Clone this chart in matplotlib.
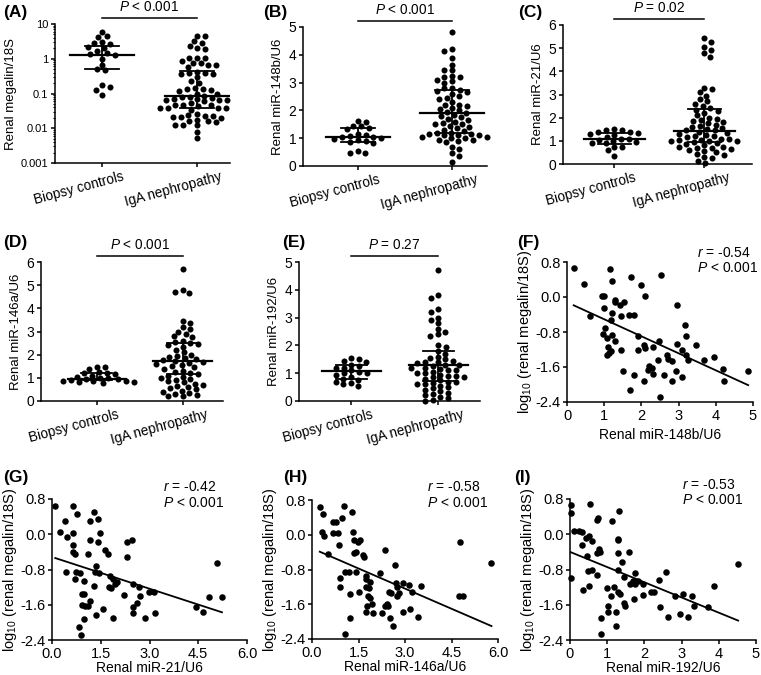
import numpy as np
import matplotlib
matplotlib.use("Agg")
import matplotlib.pyplot as plt
from matplotlib import transforms
from matplotlib.ticker import LogLocator, FixedLocator, FixedFormatter, NullFormatter

# ─── Data ──────────────────────────────────────────────────────────────────────

GROUPS = ["Biopsy controls", "IgA nephropathy"]

# renal megalin/18S, biopsy controls
A_ctrl = [5.8, 4.4, 4.2, 3.0, 2.8, 2.7, 2.2, 2.1, 1.7, 1.5, 1.4, 1.3, 1.0, 0.68,
          0.5, 0.47, 0.17, 0.155, 0.13, 0.093]
A_stats = [(0.5, 1.3, 2.4), (0.039, 0.084, 0.45)]          # q1, median, q3

B_ctrl = [1.62, 1.6, 1.45, 1.43, 1.35, 1.32, 1.15, 1.12, 1.08, 1.05, 1.03, 1.0,
          0.98, 0.92, 0.9, 0.88, 0.82, 0.55, 0.48, 0.47]
B_iga = [4.82, 4.2, 4.15, 3.9, 3.65, 3.45, 3.45, 3.25, 3.2, 3.2, 3.1, 3.05, 3.0,
         2.8, 2.8, 2.75, 2.7, 2.65, 2.6, 2.5, 2.45, 2.4, 2.3, 2.2, 2.2, 2.15, 2.1,
         2.05, 2.0, 1.95, 1.9, 1.85, 1.8, 1.75, 1.7, 1.65, 1.6, 1.55, 1.5, 1.5,
         1.45, 1.4, 1.35, 1.3, 1.25, 1.2, 1.2, 1.15, 1.15, 1.1, 1.1, 1.1, 1.05,
         1.05, 1.0, 1.0, 0.95, 0.95, 0.9, 0.85, 0.7, 0.6, 0.45, 0.35, 0.15]
B_stats = [(0.88, 1.05, 1.35), (1.19, 1.9, 2.72)]

C_ctrl = [1.5, 1.48, 1.45, 1.4, 1.38, 1.35, 1.3, 1.25, 1.15, 1.1, 1.08, 1.05, 1.0,
          0.95, 0.92, 0.9, 0.75, 0.72, 0.6, 0.35]
C_iga = [5.43, 5.28, 5.07, 4.92, 4.78, 4.61, 3.3, 3.25, 3.1, 2.95, 2.8, 2.7, 2.6,
         2.5, 2.4, 2.35, 2.3, 2.2, 2.1, 2.0, 1.95, 1.9, 1.85, 1.8, 1.75, 1.7,
         1.65, 1.6, 1.55, 1.5, 1.45, 1.45, 1.4, 1.35, 1.3, 1.25, 1.2, 1.2, 1.15,
         1.1, 1.1, 1.05, 1.05, 1.0, 1.0, 1.0, 0.95, 0.9, 0.85, 0.8, 0.75, 0.75,
         0.7, 0.7, 0.65, 0.6, 0.55, 0.5, 0.45, 0.4, 0.3, 0.25, 0.15, 0.05]
C_stats = [(0.88, 1.08, 1.33), (0.95, 1.43, 2.38)]

D_ctrl = [1.48, 1.45, 1.38, 1.25, 1.22, 1.2, 1.15, 1.1, 1.05, 1.0, 0.98, 0.95,
          0.93, 0.9, 0.88, 0.87, 0.85, 0.82, 0.8, 0.78]
D_iga = [5.7, 4.8, 4.7, 4.65, 3.45, 3.35, 3.2, 3.1, 3.0, 2.9, 2.8, 2.75, 2.6,
         2.55, 2.5, 2.45, 2.4, 2.35, 2.2, 2.1, 2.0, 1.95, 1.9, 1.85, 1.8, 1.75,
         1.72, 1.7, 1.65, 1.6, 1.55, 1.5, 1.45, 1.4, 1.3, 1.25, 1.2, 1.15, 1.1,
         1.05, 1.0, 0.95, 0.9, 0.85, 0.8, 0.75, 0.7, 0.65, 0.6, 0.55, 0.5, 0.45,
         0.4, 0.35, 0.3, 0.25, 0.2, 0.2]
D_stats = [(0.89, 0.95, 1.2), (1.15, 1.72, 2.51)]

E_ctrl = [1.55, 1.5, 1.45, 1.4, 1.3, 1.25, 1.2, 1.18, 1.1, 1.05, 1.0, 1.0, 0.95,
          0.85, 0.8, 0.75, 0.7, 0.65, 0.6, 0.55]
E_iga = [4.72, 3.82, 3.72, 3.3, 3.2, 3.0, 2.9, 2.8, 2.6, 2.5, 2.4, 2.35, 2.0,
         1.95, 1.8, 1.7, 1.6, 1.55, 1.5, 1.45, 1.4, 1.4, 1.35, 1.3, 1.3, 1.25,
         1.2, 1.2, 1.15, 1.1, 1.1, 1.05, 1.0, 1.0, 0.95, 0.9, 0.9, 0.85, 0.85,
         0.8, 0.75, 0.7, 0.7, 0.65, 0.6, 0.6, 0.55, 0.5, 0.45, 0.4, 0.35, 0.3,
         0.25, 0.2, 0.15, 0.1, 0.05, 0.0]
E_stats = [(0.78, 1.07, 1.28), (0.73, 1.28, 1.79)]

# correlations: x = renal miRNA/U6, y = log10(renal megalin/18S)
F_x = [0.18, 0.46, 0.63, 0.94, 0.99, 1.0, 1.03, 0.98, 1.08, 1.1, 1.08, 1.12, 1.17,
       1.2, 1.16, 1.22, 1.22, 1.19, 1.28, 1.29, 1.29, 1.43, 1.52, 1.46, 1.46, 1.51,
       1.67, 1.8, 1.7, 1.72, 1.79, 1.92, 1.92, 2.0, 2.1, 2.08, 2.1, 2.08, 2.17,
       2.21, 2.28, 2.32, 2.32, 2.44, 2.46, 2.51, 2.53, 2.62, 2.68, 2.72, 2.81,
       2.81, 2.93, 2.96, 2.97, 3.08, 3.08, 3.17, 3.21, 3.21, 3.24, 3.46, 3.69,
       3.96, 4.2, 4.23, 4.87]
F_y = [0.66, 0.30, -0.44, 0.03, 0.03, -0.25, -0.71, -0.85, -0.94, -1.15, -1.32,
       -1.28, -1.23, -0.86, 0.65, 0.37, -0.37, -0.53, -0.06, -0.11, -1.01, -0.18,
       -0.12, -0.44, -1.2, -1.7, -0.42, -0.42, -2.12, 0.46, -1.79, -0.88, -1.2,
       0.28, 0.03, -1.09, -1.17, -1.91, -1.66, -1.58, -1.62, -1.14, -1.75, -1.43,
       -1.01, -2.29, 0.51, -1.79, -1.33, -1.41, -1.47, -1.91, -1.68, -1.07, -0.18,
       -1.2, -1.83, -0.65, -0.9, -1.33, -1.43, -1.1, -1.43, -1.37, -1.64, -1.91,
       -1.68]
F_fit = (-0.12, -0.389)      # intercept, slope

G_x = [0.1, 0.26, 0.41, 0.46, 0.43, 0.65, 0.66, 0.65, 0.65, 0.72, 0.77, 0.75, 0.72,
       0.84, 0.87, 0.9, 0.92, 0.92, 0.97, 0.99, 0.97, 1.02, 1.1, 1.11, 1.16, 1.18,
       1.18, 1.28, 1.28, 1.33, 1.36, 1.35, 1.41, 1.43, 1.47, 1.46, 1.57, 1.64,
       1.71, 1.79, 1.74, 1.82, 1.88, 1.88, 1.95, 2.0, 2.2, 2.31, 2.31, 2.46, 2.49,
       2.49, 2.49, 2.62, 2.67, 2.7, 2.85, 2.99, 3.15, 3.18, 4.44, 4.64, 4.84, 5.09,
       5.23]
G_y = [0.63, 0.04, 0.29, -0.06, -0.86, 0.65, 0.03, -0.25, -0.41, -0.45, 0.46,
       -0.86, -1.01, -2.11, -0.87, -2.29, -1.35, -1.6, -1.06, -1.35, -1.92, -1.63,
       -1.63, -0.44, 0.29, -0.12, -1.51, 0.5, -1.17, -0.86, -0.72, -1.83, 0.35,
       -0.17, 0.03, -0.88, -1.7, -0.35, -0.44, -0.95, -1.2, -1.22, -1.9, -1.02,
       -1.13, -1.08, -1.38, -0.18, -0.52, -0.12, -1.13, -1.66, -1.78, -1.57, -1.2,
       -1.4, -1.9, -1.32, -1.3, -1.78, -1.66, -1.77, -1.43, -0.66, -1.43]
G_fit = (-0.516, -0.24)

H_x = [0.25, 0.35, 0.32, 0.4, 0.51, 0.68, 0.78, 0.68, 0.83, 0.86, 0.96, 1.04, 0.91,
       0.89, 1.07, 1.07, 1.2, 1.21, 1.21, 1.29, 1.31, 1.36, 1.34, 1.43, 1.43, 1.47,
       1.5, 1.55, 1.66, 1.68, 1.73, 1.75, 1.75, 1.75, 1.78, 1.81, 1.84, 1.87,
       1.88, 1.93, 1.98, 2.2, 2.27, 2.37, 2.37, 2.42, 2.46, 2.47, 2.5, 2.54, 2.62,
       2.68, 2.7, 2.73, 2.73, 2.82, 2.92, 2.92, 3.14, 3.16, 3.21, 3.43, 3.5, 4.75,
       4.88, 4.77, 5.79]
H_y = [0.65, 0.48, 0.06, -0.04, -0.44, 0.30, 0.30, 0.05, 0.05, -0.23, 0.38, 0.67,
       -1.0, -1.21, -0.85, -2.29, -0.85, -1.36, -1.92, 0.52, 0.06, -0.12, -0.43,
       -0.4, -0.86, -0.17, -1.31, -0.11, -0.46, -0.52, -0.96, -1.02, -1.2, -1.77,
       -1.65, -1.41, -1.23, -1.08, -1.46, -1.59, -1.8, -0.89, -1.8, -0.35, -1.65,
       -1.59, -1.65, -1.31, -1.92, -1.35, -2.11, -0.69, -1.11, -1.41, -1.21, -1.33,
       -1.78, -1.1, -1.15, -1.7, -1.31, -1.9, -1.19, -1.42, -1.42, -0.17, -0.64]
H_fit = (-0.313, -0.309)

I_x = [0.02, 0.02, 0.02, 0.11, 0.24, 0.33, 0.31, 0.34, 0.43, 0.46, 0.5, 0.48, 0.51,
       0.54, 0.6, 0.58, 0.72, 0.76, 0.73, 0.78, 0.81, 0.72, 0.83, 0.83, 0.99, 1.01,
       1.03, 1.1, 1.14, 1.17, 1.24, 1.24, 1.28, 1.28, 1.28, 1.3, 1.3, 1.33, 1.35,
       1.41, 1.44, 1.46, 1.48, 1.59, 1.62, 1.69, 1.71, 1.75, 1.75, 1.82, 1.95,
       1.95, 2.17, 2.27, 2.4, 2.41, 2.58, 2.63, 2.81, 2.96, 3.05, 3.16, 3.28, 3.32,
       3.71, 3.86, 4.52]
I_y = [0.67, 0.48, -0.99, 0.08, 0.08, 0.06, -0.24, -1.27, -0.09, -0.5, -0.04,
       -0.83, -1.18, 0.69, -0.81, -0.15, 0.33, 0.38, -0.43, -0.34, -0.4, -0.93,
       -1.9, -2.26, -1.21, -1.77, -1.63, -1.4, 0.31, -1.2, -1.77, -2.09, -0.11,
       -0.14, -0.42, -0.81, -1.31, 0.53, -1.35, -0.62, -1.56, -0.98, -1.62, -0.4,
       -1.13, -1.07, -1.48, -0.87, -1.13, -1.07, -1.14, -1.37, -1.3, -1.3, -1.04,
       -1.66, -0.85, -1.88, -1.4, -1.81, -1.35, -1.88, -1.4, -1.62, -1.65, -1.17,
       -0.68]
I_fit = (-0.40, -0.345)

# IgA group in (A) is the same patients as the y values of the scatter panels
A_iga = list(10.0 ** np.array(F_y))

R_VALUES = {"F": "-0.54", "G": "-0.42", "H": "-0.58", "I": "-0.53"}

# ─── Style ─────────────────────────────────────────────────────────────────────

W, H = 761, 675
plt.rcParams.update({
    "font.family": ["Liberation Sans", "DejaVu Sans"],
    "mathtext.fontset": "custom",
    "mathtext.rm": "Liberation Sans",
    "mathtext.it": "Liberation Sans:italic",
    "mathtext.bf": "Liberation Sans:bold",
    "axes.unicode_minus": False,
})

fig = plt.figure(figsize=(W / 100, H / 100), dpi=100)


def add_ax(left, top, right, bottom):
    # pixel box of the reference -> figure fraction
    return fig.add_axes([left / W, 1 - bottom / H, (right - left) / W, (bottom - top) / H])


def style(ax, fs=10):
    for s in ("top", "right"):
        ax.spines[s].set_visible(False)
    for s in ("left", "bottom"):
        ax.spines[s].set_linewidth(1.1)
    ax.tick_params(direction="out", length=3.2, width=1.1, labelsize=fs, pad=1.5)


def swarm_x(ax, center, vals, dx=8.0, dy=5.5):
    """Beeswarm offsets in display space (deterministic, elliptic spacing)."""
    pts = ax.transData.transform(np.column_stack([np.full(len(vals), center), vals]))
    x0, ys = pts[0, 0], pts[:, 1]
    xs = np.full(len(vals), x0)
    placed = []
    flip = False
    for i in np.argsort(-ys):
        y = ys[i]
        near = [(px, py) for px, py in placed if abs(py - y) < dy]
        best = x0
        for k in range(400):
            cands = (x0 + k * 0.5, x0 - k * 0.5) if flip else (x0 - k * 0.5, x0 + k * 0.5)
            hit = [c for c in cands
                   if all(((c - px) / dx) ** 2 + ((y - py) / dy) ** 2 >= 1 for px, py in near)]
            if hit:
                best = hit[0]
                break
        flip = not flip
        xs[i] = best
        placed.append((best, y))
    return ax.transData.inverted().transform(np.column_stack([xs, ys]))[:, 0]


def dot_panel(box, ctrl, iga, stats, ylim, ylabel, ptext, xlim, log=False):
    ax = add_ax(*box)
    style(ax)
    if log:
        ax.set_yscale("log")
    ax.set_xlim(*xlim)
    ax.set_ylim(*ylim)
    for x, vals in ((0, ctrl), (1, iga)):
        ax.scatter(swarm_x(ax, x, vals), vals, s=19, c="k", lw=0, clip_on=False, zorder=3)
    for x, (q1, med, q3) in zip((0, 1), stats):
        ax.plot([x - 0.34, x + 0.34], [med, med], color="k", lw=1.6, zorder=4)
        ax.plot([x - 0.18, x + 0.18], [q1, q1], color="k", lw=1.3, zorder=4)
        ax.plot([x - 0.18, x + 0.18], [q3, q3], color="k", lw=1.3, zorder=4)
        ax.plot([x, x], [q1, q3], color="k", lw=1.3, zorder=4)
    ax.set_xticks([0, 1])
    ax.set_xticklabels(GROUPS, rotation=15, fontsize=9.8, ha="center")
    shift = transforms.ScaledTranslation(-0.23, 0, fig.dpi_scale_trans)
    for lab in ax.get_xticklabels():
        lab.set_transform(lab.get_transform() + shift)
    ax.set_ylabel(ylabel, fontsize=9.5, labelpad=3)
    tr = ax.get_xaxis_transform()
    ax.plot([0, 1], [1.045, 1.045], color="k", lw=1.1, transform=tr, clip_on=False)
    ax.text(0.5, 1.07, ptext, transform=tr, ha="center", va="bottom", fontsize=9.8)
    return ax


def corr_panel(box, key, x, y, fit, xlim, xticks, xfmt, xlabel, rx, ry, xpad):
    ax = add_ax(*box)
    style(ax, fs=10.5)
    ax.scatter(x, y, s=22, c="k", lw=0, clip_on=False, zorder=3)
    xx = np.array([min(x), max(x)])
    ax.plot(xx, fit[0] + fit[1] * xx, color="k", lw=1.3)
    ax.set_xlim(*xlim)
    ax.set_ylim(-2.4, 0.8)
    yt = [0.8, 0.0, -0.8, -1.6, -2.4]
    ax.set_yticks(yt)
    ax.set_yticklabels(["%.1f" % v for v in yt])
    ax.set_xticks(xticks)
    ax.set_xticklabels([xfmt % v for v in xticks])
    ax.set_xlabel(xlabel, fontsize=10, labelpad=xpad)
    ax.set_ylabel("log$_{10}$ (renal megalin/18S)", fontsize=10.5, labelpad=1)
    ax.text(rx, ry, "$r$ = %s" % R_VALUES[key], transform=ax.transAxes,
            ha="left", va="center", fontsize=10)
    ax.text(rx, ry - 0.11, "$P$ < 0.001", transform=ax.transAxes,
            ha="left", va="center", fontsize=10)
    return ax


# ─── Panels ────────────────────────────────────────────────────────────────────

axA = dot_panel((55, 24, 230, 163), A_ctrl, A_iga, A_stats, (0.001, 10),
                "Renal megalin/18S", "$P$ < 0.001", (-0.495, 1.35), log=True)
axA.yaxis.set_major_locator(FixedLocator([0.001, 0.01, 0.1, 1, 10]))
axA.yaxis.set_major_formatter(FixedFormatter(["0.001", "0.01", "0.1", "1", "10"]))
axA.yaxis.set_minor_locator(LogLocator(base=10, subs=np.arange(2, 10)))
axA.yaxis.set_minor_formatter(NullFormatter())
axA.tick_params(axis="y", which="minor", length=1.8, width=0.8)
axA.tick_params(axis="y", which="major", labelsize=8)

axB = dot_panel((303, 27, 487, 166), B_ctrl, B_iga, B_stats, (0, 5),
                "Renal miR-148b/U6", "$P$ < 0.001", (-0.58, 1.37))
axB.set_yticks(range(0, 6))
axC = dot_panel((563, 25, 752, 164), C_ctrl, C_iga, C_stats, (0, 6),
                "Renal miR-21/U6", "$P$ = 0.02", (-0.57, 1.53))
axC.set_yticks(range(0, 7))
axD = dot_panel((41, 262, 223, 401), D_ctrl, D_iga, D_stats, (0, 6),
                "Renal miR-146a/U6", "$P$ < 0.001", (-0.65, 1.47))
axD.set_yticks(range(0, 7))
axE = dot_panel((299, 262, 480, 401), E_ctrl, E_iga, E_stats, (0, 5),
                "Renal miR-192/U6", "$P$ = 0.27", (-0.6, 1.48))
axE.set_yticks(range(0, 6))

corr_panel((567, 262, 753, 402), "F", F_x, F_y, F_fit, (0, 5), range(0, 6), "%d",
           "Renal miR-148b/U6", 0.70, 1.064, 4)
corr_panel((52, 499, 247, 640), "G", G_x, G_y, G_fit, (0, 6), [0, 1.5, 3, 4.5, 6], "%.1f",
           "Renal miR-21/U6", 0.57, 1.085, 0.5)
corr_panel((312, 500, 498, 639), "H", H_x, H_y, H_fit, (0, 6), [0, 1.5, 3, 4.5, 6], "%.1f",
           "Renal miR-146a/U6", 0.62, 1.09, 0.5)
corr_panel((570, 499, 756, 640), "I", I_x, I_y, I_fit, (0, 5), range(0, 6), "%d",
           "Renal miR-192/U6", 0.60, 1.10, 0.5)

# panel letters
for lab, (px, py) in {"(A)": (3, 5), "(B)": (263, 5), "(C)": (518, 5),
                      "(D)": (3, 235), "(E)": (282, 235), "(F)": (517, 235),
                      "(G)": (3, 470), "(H)": (283, 470), "(I)": (514, 470)}.items():
    fig.text(px / W, 1 - py / H, lab, fontsize=12.5, fontweight="bold", ha="left", va="top")

fig.savefig("out.png", dpi=100)
